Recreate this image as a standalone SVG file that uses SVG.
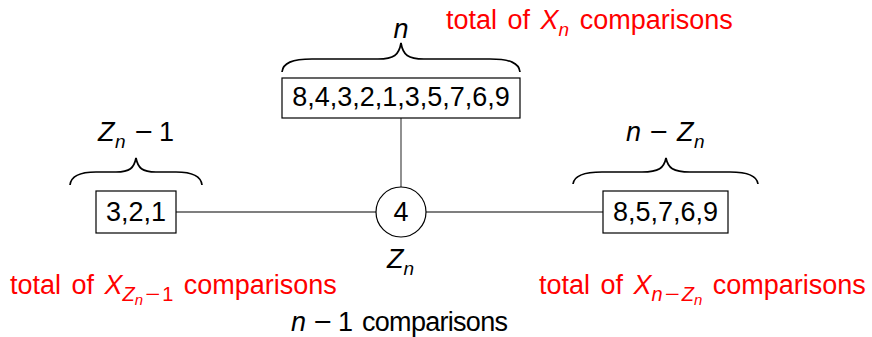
<svg xmlns="http://www.w3.org/2000/svg" width="872" height="337" viewBox="0 0 872 337">
<style>
text{font-family:"Liberation Sans",Arial,sans-serif;font-size:27px;fill:#000}
.red{fill:#ff0000;word-spacing:3px}
.red tspan{fill:#ff0000}
.it{font-style:italic}
.sub{font-size:20px}
.ss{font-size:15px}
.box{fill:#fff;stroke:#000;stroke-width:1.2}
.conn{stroke:#555;stroke-width:1.3;fill:none}
.brace{fill:none;stroke:#000;stroke-width:1.7}
.mid{text-anchor:middle}
</style>
<rect width="872" height="337" fill="#fff"/>
<g id="connectors">
<line class="conn" x1="401" y1="118" x2="401" y2="187"/>
<line class="conn" x1="176" y1="212" x2="376" y2="212"/>
<line class="conn" x1="426" y1="212" x2="603" y2="212"/>
</g>
<g id="node-top">
<rect class="box" x="282" y="78" width="238" height="40"/>
<text class="mid" x="401" y="106">8,4,3,2,1,3,5,7,6,9</text>
</g>
<g id="node-pivot">
<circle cx="401" cy="212" r="25" fill="#fff" stroke="#000" stroke-width="1.2"/>
<text class="mid" x="401" y="221">4</text>
<text x="387" y="268"><tspan class="it">Z</tspan><tspan class="it" font-size="19" dy="7">n</tspan></text>
</g>
<g id="node-left">
<rect class="box" x="96" y="191" width="80" height="42"/>
<text class="mid" x="136" y="221">3,2,1</text>
</g>
<g id="node-right">
<rect class="box" x="603" y="191" width="125" height="42"/>
<text class="mid" x="665.5" y="221">8,5,7,6,9</text>
</g>
<g id="braces">
<path class="brace" d="M282,72 C283,63 292,59 312,59 L378,59 C394,59 399,55 401,43 C403,55 408,59 424,59 L490,59 C510,59 519,63 520,72"/>
<path class="brace" d="M70,185 C71,176 80,172 96,172 L116,172 C130,172 134,168 136,158 C138,168 142,172 156,172 L176,172 C192,172 201,176 202,185"/>
<path class="brace" d="M573,184 C574,176 584,172 602,172 L642,172 C659,172 664,168 666,158 C668,168 673,172 690,172 L730,172 C748,172 757,176 758,184"/>
</g>
<g id="labels">
<text class="mid it" x="401" y="38">n</text>
<text y="141"><tspan class="it" x="98">Z</tspan><tspan class="it" font-size="19" x="115" dy="7">n</tspan><tspan x="135" dy="-7" textLength="18" lengthAdjust="spacingAndGlyphs">−</tspan><tspan x="159">1</tspan></text>
<text y="141"><tspan class="it" x="626">n</tspan><tspan x="650" textLength="18" lengthAdjust="spacingAndGlyphs">−</tspan><tspan class="it" x="677">Z</tspan><tspan class="it" font-size="19" x="694" dy="7">n</tspan></text>
<text class="red" x="446" y="29">total of <tspan class="it">X</tspan><tspan class="it" font-size="19" dy="7">n</tspan><tspan dy="-7"> comparisons</tspan></text>
<text class="red" x="10" y="294">total of <tspan class="it">X</tspan><tspan class="it sub" dy="7">Z</tspan><tspan class="it ss" dy="4">n</tspan><tspan class="sub" dy="-4" dx="2" textLength="15" lengthAdjust="spacingAndGlyphs">−</tspan><tspan class="sub" dx="2">1</tspan><tspan dy="-7"> comparisons</tspan></text>
<text class="red" x="539" y="294">total of <tspan class="it">X</tspan><tspan class="it sub" dy="7">n</tspan><tspan class="sub" dx="2" textLength="15" lengthAdjust="spacingAndGlyphs">−</tspan><tspan class="it sub" dx="2">Z</tspan><tspan class="it ss" dy="4">n</tspan><tspan dy="-11"> comparisons</tspan></text>
<text y="331"><tspan class="it" x="291">n</tspan><tspan x="314" textLength="18" lengthAdjust="spacingAndGlyphs">−</tspan><tspan x="338">1</tspan><tspan x="362" textLength="146" lengthAdjust="spacing">comparisons</tspan></text>
</g>
</svg>
